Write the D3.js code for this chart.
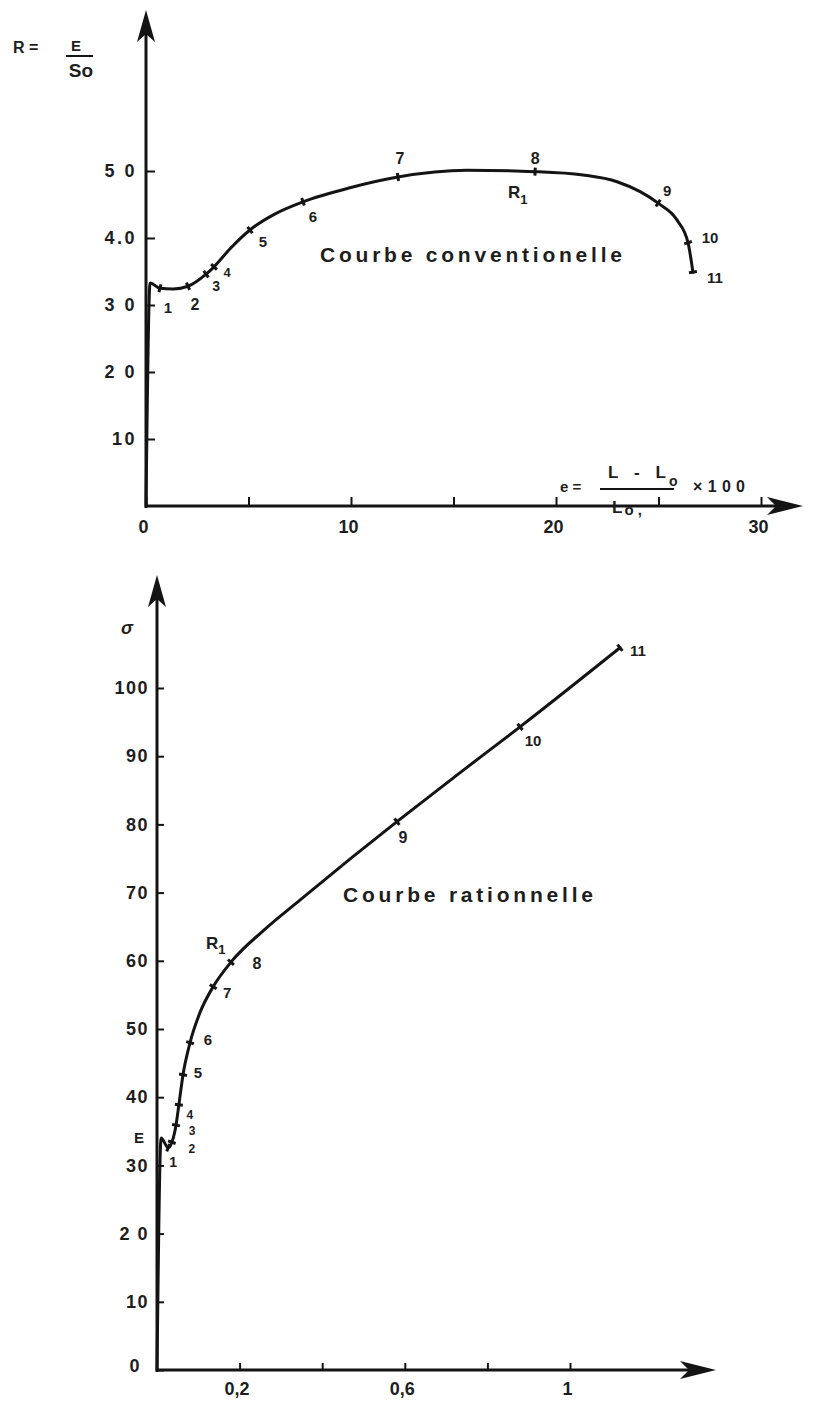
<!DOCTYPE html>
<html>
<head>
<meta charset="utf-8">
<script src="https://cdn.jsdelivr.net/npm/d3@7"></script>
<style>
  body { margin: 0; background: #fff; }
  svg { display: block; }
  text { font-family: "Liberation Sans", Arial, Helvetica, sans-serif; font-weight: bold; fill: #1e1e1e; }
</style>
</head>
<body>
<svg id="chart" width="813" height="1403"></svg>
<script>
// ---- Courbe conventionelle : e (%) versus R = F/S0 ----
const convE = [0, 0.2, 0.68, 1.32, 2.05, 2.93, 3.32, 4.1, 5.07, 6.3, 7.66, 9.95, 12.29, 15.66, 18.98, 21.32, 22.98, 24.98, 25.9, 26.44, 26.68];
const convR = [0, 33.3, 32.5, 32.4, 32.8, 34.6, 35.7, 38.4, 41.2, 43.6, 45.4, 47.5, 49.1, 50.1, 49.9, 49.4, 48.4, 45.2, 42.7, 39.3, 34.9];
const convPointIdx = [2, 4, 5, 6, 8, 10, 12, 14, 17, 19, 20];
const convPointLabels = ["1", "2", "3", "4", "5", "6", "7", "8", "9", "10", "11"];
const convYTicks = [10, 20, 30, 40, 50];
const convYTickLabels = ["10", "2 0", "3 0", "4.0", "5 0"];
const convXTicks = [0, 5, 10, 15, 20, 25, 30];
const convXLabelValues = [0, 10, 20, 30];
const convXLabelText = ["0", "10", "20", "30"];

// ---- Courbe rationnelle : true strain versus true stress sigma ----
const ratE = [0, 0.010, 0.027, 0.036, 0.046, 0.053, 0.063, 0.080, 0.104, 0.136, 0.179, 0.259, 0.346, 0.467, 0.581, 0.734, 0.879, 1.121];
const ratSigma = [0, 34.0, 32.6, 33.4, 35.9, 38.9, 43.3, 48.0, 52.4, 56.2, 59.8, 64.5, 68.9, 74.9, 80.4, 87.6, 94.3, 105.9];
const ratPointIdx = [2, 3, 4, 5, 6, 7, 9, 10, 14, 16, 17];
const ratPointLabels = ["1", "2", "3", "4", "5", "6", "7", "8", "9", "10", "11"];
const ratYTicks = [0, 10, 20, 30, 40, 50, 60, 70, 80, 90, 100];
const ratYTickLabels = ["0", "10", "2 0", "30", "40", "50", "60", "70", "80", "90", "100"];
const ratXTicks = [0.2, 0.4, 0.6, 0.8, 1.0];
const ratXLabelValues = [0.2, 0.6, 1.0];
const ratXLabelText = ["0,2", "0,6", "1"];

const svg = d3.select("#chart");
const INK = "#141414";

function arrowUp(g, x, tipY) {
  g.append("path")
    .attr("d", `M${x},${tipY} L${x - 9},${tipY + 32} L${x},${tipY + 24} L${x + 9},${tipY + 32} Z`)
    .attr("fill", INK);
}
function arrowRight(g, tipX, y) {
  g.append("path")
    .attr("d", `M${tipX},${y} L${tipX - 36},${y - 9} L${tipX - 27},${y} L${tipX - 36},${y + 9} Z`)
    .attr("fill", INK);
}

// curve, point marks (short strokes across the line) and their numbers
function drawCurve(g, xs, ys, x, y, idx, labels, offsets, sizes) {
  const pts = xs.map((v, i) => [x(v), y(ys[i])]);
  g.append("path")
    .attr("d", d3.line().curve(d3.curveMonotoneX)(pts))
    .attr("fill", "none")
    .attr("stroke", INK)
    .attr("stroke-width", 3)
    .attr("stroke-linejoin", "round")
    .attr("stroke-linecap", "round");
  idx.forEach((k, j) => {
    const p = pts[k];
    const a = pts[Math.max(0, k - 1)];
    const b = pts[Math.min(pts.length - 1, k + 1)];
    const dx = b[0] - a[0], dy = b[1] - a[1];
    const len = Math.hypot(dx, dy) || 1;
    const nx = -dy / len, ny = dx / len;
    g.append("line")
      .attr("x1", p[0] - nx * 4).attr("y1", p[1] - ny * 4)
      .attr("x2", p[0] + nx * 4).attr("y2", p[1] + ny * 4)
      .attr("stroke", INK).attr("stroke-width", 3);
    g.append("text")
      .attr("x", p[0] + offsets[j][0])
      .attr("y", p[1] + offsets[j][1])
      .attr("dy", "0.36em")
      .attr("text-anchor", "middle")
      .style("font-size", sizes[j] + "px")
      .text(labels[j]);
  });
  return pts;
}

function styleAxis(sel, size, spacing) {
  sel.select(".domain").remove();
  sel.selectAll("line").attr("stroke", INK).attr("stroke-width", 2);
  sel.selectAll("text").style("font-size", size + "px").attr("font-family", null).attr("fill", null)
    .style("letter-spacing", spacing + "px");
}

// =================== upper panel ===================
{
  const g = svg.append("g");
  const x = d3.scaleLinear().domain([0, 30]).range([146, 761]);
  const y = d3.scaleLinear().domain([0, 50]).range([506, 171]);

  g.append("line").attr("x1", x(0)).attr("x2", x(0)).attr("y1", y(0) + 2).attr("y2", 30)
    .attr("stroke", INK).attr("stroke-width", 3);
  arrowUp(g, x(0), 10);
  g.append("line").attr("x1", x(0) - 1).attr("x2", 785).attr("y1", y(0)).attr("y2", y(0))
    .attr("stroke", INK).attr("stroke-width", 3);
  arrowRight(g, 803, y(0));

  const yAxis = g.append("g").attr("transform", `translate(${x(0)},0)`)
    .call(d3.axisLeft(y).tickValues(convYTicks).tickSizeInner(-9).tickSizeOuter(0).tickPadding(9)
      .tickFormat((d, i) => convYTickLabels[i]));
  styleAxis(yAxis, 18, 2.5);

  const xAxis = g.append("g").attr("transform", `translate(0,${y(0)})`)
    .call(d3.axisBottom(x).tickValues(convXTicks).tickSizeInner(-9).tickSizeOuter(0).tickPadding(14)
      .tickFormat(d => { const i = convXLabelValues.indexOf(d); return i < 0 ? "" : convXLabelText[i]; }));
  styleAxis(xAxis, 18, 0);
  xAxis.selectAll("text").attr("transform", "translate(-3,0)");

  const offs = [[8, 19], [7, 18], [10, 12], [13, 6], [13, 12], [10, 15], [2, -19], [0, -13], [9, -13], [22, -5], [22, 5]];
  const sizes = [15, 16, 14, 13, 15, 15, 16, 16, 15, 15, 15];
  const pts = drawCurve(g, convE, convR, x, y, convPointIdx, convPointLabels, offs, sizes);

  const p8 = pts[convPointIdx[7]];
  const r1 = g.append("text").attr("x", p8[0] - 27).attr("y", p8[1] + 26).style("font-size", "17px");
  r1.append("tspan").text("R");
  r1.append("tspan").attr("dy", 6).style("font-size", "13px").text("1");

  g.append("text").attr("x", 320).attr("y", 262).style("font-size", "21px")
    .attr("textLength", 302).attr("lengthAdjust", "spacing").text("Courbe conventionelle");

  // R = F / So
  g.append("text").attr("x", 13).attr("y", 53).style("font-size", "16px").text("R =");
  g.append("text").attr("x", 76).attr("y", 51).attr("text-anchor", "middle").style("font-size", "15px").text("E");
  g.append("line").attr("x1", 66).attr("x2", 93).attr("y1", 56).attr("y2", 56).attr("stroke", INK).attr("stroke-width", 2);
  g.append("text").attr("x", 81).attr("y", 77).attr("text-anchor", "middle").style("font-size", "19px").text("So");

  // e = (L - Lo)/Lo x 100
  g.append("text").attr("x", 560).attr("y", 492).style("font-size", "15px").text("e =");
  g.append("text").attr("x", 608).attr("y", 478).style("font-size", "17px")
    .attr("textLength", 58).attr("lengthAdjust", "spacing").text("L - L");
  g.append("text").attr("x", 669).attr("y", 486).style("font-size", "14px").text("o");
  g.append("line").attr("x1", 600).attr("x2", 674).attr("y1", 489).attr("y2", 489).attr("stroke", INK).attr("stroke-width", 2);
  const den = g.append("text").attr("x", 612).attr("y", 513).style("font-size", "17px");
  den.append("tspan").text("L");
  den.append("tspan").attr("dx", 2).attr("dy", 2).style("font-size", "15px").text("o ,");
  g.append("text").attr("x", 693).attr("y", 492).style("font-size", "16px")
    .attr("textLength", 52).attr("lengthAdjust", "spacing").text("×100");
}

// =================== lower panel ===================
{
  const g = svg.append("g");
  const x = d3.scaleLinear().domain([0, 1]).range([157, 570]);
  const y = d3.scaleLinear().domain([0, 100]).range([1370, 688]);

  g.append("line").attr("x1", x(0)).attr("x2", x(0)).attr("y1", y(0) + 2).attr("y2", 595)
    .attr("stroke", INK).attr("stroke-width", 3);
  arrowUp(g, x(0), 575);
  g.append("line").attr("x1", x(0) - 1).attr("x2", 700).attr("y1", y(0)).attr("y2", y(0))
    .attr("stroke", INK).attr("stroke-width", 3);
  arrowRight(g, 716, y(0));

  const yAxis = g.append("g").attr("transform", `translate(${x(0)},0)`)
    .call(d3.axisLeft(y).tickValues(ratYTicks).tickSizeInner(-7).tickSizeOuter(0).tickPadding(8)
      .tickFormat((d, i) => ratYTickLabels[i]));
  styleAxis(yAxis, 18, 1.5);
  yAxis.selectAll(".tick").filter(d => d === 0).select("text").attr("x", -16).attr("dy", "0.1em");

  const xAxis = g.append("g").attr("transform", `translate(0,${y(0)})`)
    .call(d3.axisBottom(x).tickValues(ratXTicks).tickSizeInner(-7).tickSizeOuter(0).tickPadding(12)
      .tickFormat(d => { const i = ratXLabelValues.findIndex(v => Math.abs(v - d) < 1e-9); return i < 0 ? "" : ratXLabelText[i]; }));
  styleAxis(xAxis, 18, 0);
  xAxis.selectAll("text").attr("transform", "translate(-3,0)");

  const offs = [[5, 14], [20, 6], [16, 6], [11, 10], [15, -2], [18, -3], [14, 6], [26, 1], [6, 16], [13, 14], [18, 3]];
  const sizes = [14, 12, 12, 12, 15, 15, 15, 16, 16, 15, 15];
  const pts = drawCurve(g, ratE, ratSigma, x, y, ratPointIdx, ratPointLabels, offs, sizes);

  const p8 = pts[ratPointIdx[7]];
  const r1 = g.append("text").attr("x", p8[0] - 25).attr("y", p8[1] - 13).style("font-size", "17px");
  r1.append("tspan").text("R");
  r1.append("tspan").attr("dy", 5).style("font-size", "13px").text("1");

  // E : elastic limit
  g.append("text").attr("x", 139).attr("y", y(ratSigma[1]) - 1).attr("dy", "0.36em")
    .attr("text-anchor", "middle").style("font-size", "15px").text("E");

  g.append("text").attr("x", 127).attr("y", 628).attr("dy", "0.36em").attr("text-anchor", "middle")
    .style("font-size", "18px").style("font-style", "italic").text("σ");

  g.append("text").attr("x", 343).attr("y", 902).style("font-size", "21px")
    .attr("textLength", 250).attr("lengthAdjust", "spacing").text("Courbe rationnelle");
}
</script>
</body>
</html>
